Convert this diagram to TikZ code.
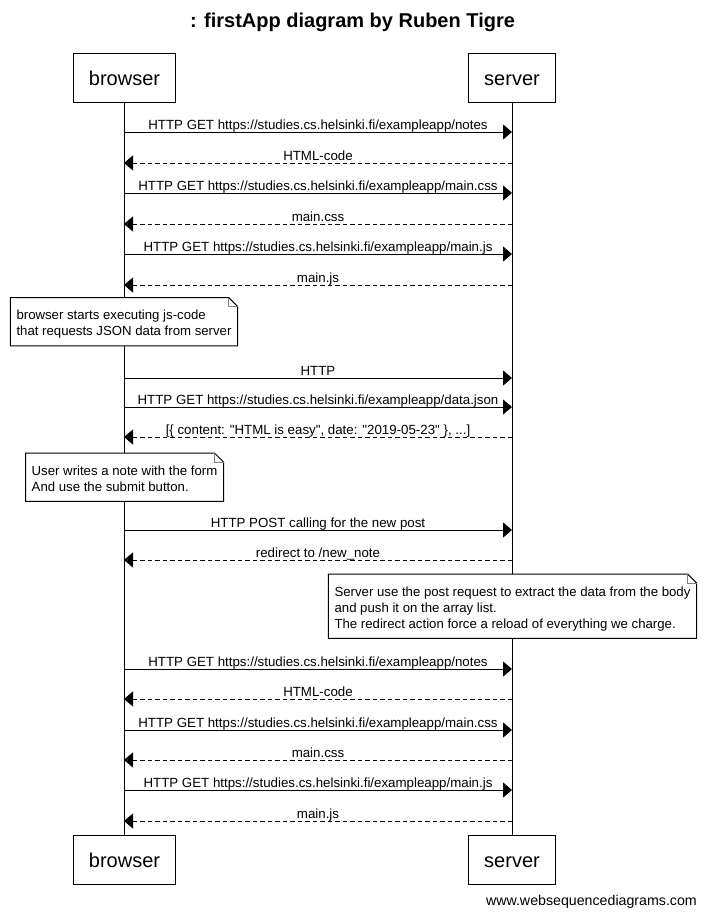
\documentclass[tikz,border=0pt]{standalone}
\usepackage{fontspec}
\setmainfont{Liberation Sans}[Ligatures=TeXOff]
\usetikzlibrary{arrows.meta,calc}
\tikzset{
  actor/.style={draw, line width=1pt, fill=white, inner xsep=15.5pt, inner ysep=0pt, minimum height=49pt, text height=15pt, text depth=0pt, font=\fontsize{20}{24}\selectfont},
  msglabel/.style={anchor=base, inner sep=0pt, font=\fontsize{13.3}{16}\selectfont},
  req/.style={line width=1pt, -{Triangle[length=9pt,width=15pt]}},
  resp/.style={req, dash pattern=on 4.5pt off 3pt},
  notebox/.style={fill=white, inner xsep=6pt, inner ysep=0pt, align=left, font=\fontsize{13.2}{16}\selectfont, anchor=north},
  noteline/.style={line width=1pt},
  foldline/.style={line width=1pt, gray},
  lifeline/.style={line width=1pt},
}
\newcommand\reqmsg[3]{%
  \coordinate (#1b) at (124,#2);
  \coordinate (#1s) at (512,#2);
  \draw[req] (#1b) -- (#1s);
  \node[msglabel] (#1l) at (318,#2-3) {#3};}
\newcommand\respmsg[3]{%
  \coordinate (#1b) at (124,#2);
  \coordinate (#1s) at (512,#2);
  \draw[resp] (#1s) -- (#1b);
  \node[msglabel] (#1l) at (318,#2-3) {#3};}
\newcommand\notefold[1]{%
  \draw[noteline] (#1.north west) -- ($(#1.north east)+(-9,0)$) -- ($(#1.north east)+(0,9)$) -- (#1.south east) -- (#1.south west) -- cycle;
  \draw[foldline] ($(#1.north east)+(-9,0)$) |- ($(#1.north east)+(0,9)$);}
\newcommand\topgap{\rule{0pt}{22pt}}
\newcommand\botgap{\rule[-10pt]{0pt}{0pt}}
\begin{document}
\begin{tikzpicture}[x=1pt,y=-1pt]
\useasboundingbox (0,0) rectangle (705,918);
\node[font=\bfseries\fontsize{20}{24}\selectfont] (title) at (352.5,22) {: firstApp diagram by Ruben Tigre};
\node[actor] (bt) at (124.5,77.5) {browser};
\node[actor] (st) at (512,77.5) {server};
\node[actor] (bb) at (124.5,859.5) {browser};
\node[actor] (sb) at (512,859.5) {server};
\draw[lifeline] (bt) -- (bb);
\draw[lifeline] (st) -- (sb);

\reqmsg{m1}{132}{HTTP GET https://studies.cs.helsinki.fi/exampleapp/notes}
\respmsg{m2}{163}{HTML-code}
\reqmsg{m3}{193}{HTTP GET https://studies.cs.helsinki.fi/exampleapp/main.css}
\respmsg{m4}{224}{main.css}
\reqmsg{m5}{254}{HTTP GET https://studies.cs.helsinki.fi/exampleapp/main.js}
\respmsg{m6}{285}{main.js}

\node[notebox] (n1) at (124,297.5) {\topgap browser starts executing js-code\\that requests JSON data from server\botgap};
\notefold{n1}

\reqmsg{m7}{378}{HTTP}
\reqmsg{m8}{407}{HTTP GET https://studies.cs.helsinki.fi/exampleapp/data.json}
\respmsg{m9}{437}{[\{ content: "HTML is easy", date: "2019-05-23" \}, ...]}

\node[notebox] (n2) at (124.5,453) {\topgap User writes a note with the form\\And use the submit button.\botgap};
\notefold{n2}

\reqmsg{m10}{530}{HTTP POST calling for the new post}
\respmsg{m11}{560}{redirect to /new\_note}

\node[notebox] (n3) at (512.5,574) {\topgap Server use the post request to extract the data from the body\\and push it on the array list.\\The redirect action force a reload of everything we charge.\botgap};
\notefold{n3}

\reqmsg{m12}{669}{HTTP GET https://studies.cs.helsinki.fi/exampleapp/notes}
\respmsg{m13}{699}{HTML-code}
\reqmsg{m14}{730}{HTTP GET https://studies.cs.helsinki.fi/exampleapp/main.css}
\respmsg{m15}{760}{main.css}
\reqmsg{m16}{790}{HTTP GET https://studies.cs.helsinki.fi/exampleapp/main.js}
\respmsg{m17}{821}{main.js}

\node[anchor=east, inner sep=0pt, font=\fontsize{14.2}{16}\selectfont] (wm) at (697,902) {www.websequencediagrams.com};
\end{tikzpicture}
\end{document}
